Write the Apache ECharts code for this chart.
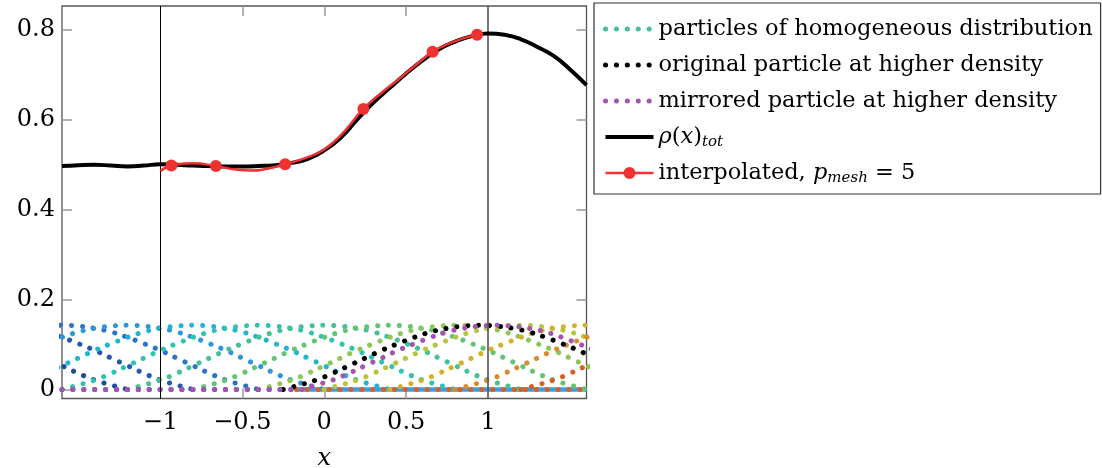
<!DOCTYPE html>
<html><head><meta charset="utf-8">
<script src="https://cdn.jsdelivr.net/npm/echarts@6/dist/echarts.min.js"></script>
<style>html,body{margin:0;padding:0;background:#fff}#c{width:1102px;height:468px}</style>
</head><body><div id="c"></div>
<script>
// ---- tick labels / guides ----
const xTickLabels = [-1, -0.5, 0, 0.5, 1];
const xTickMarks = [-0.5, 0, 0.5];
const yTickLabels = [0, 0.2, 0.4, 0.6, 0.8];
const boundaryLines = [-1, 1];

// ---- kernel profile (offset from particle centre -> value) ----
const kernelOffsets = [-1.2,-1.1,-1.0,-0.9,-0.8,-0.7,-0.6,-0.5,-0.4,-0.3,-0.2,-0.1,0,0.1,0.2,0.3,0.4,0.5,0.6,0.7,0.8,0.9,1.0,1.1,1.2];
const kernelValues  = [0,0.010,0.021,0.036,0.053,0.070,0.087,0.102,0.116,0.128,0.136,0.141,0.143,0.141,0.136,0.128,0.116,0.102,0.087,0.070,0.053,0.036,0.021,0.010,0];

// ---- particle centres ----
const homCenters = [-2.4,-2.0,-1.6,-1.2,-0.8,-0.4,0,0.4,0.8,1.2,1.6,2.0,2.4];
const homColors  = ['#1f4a9e','#2457b3','#2b74c9','#2b96d9','#20b6d2','#33c2b2','#44c296','#64c476','#8fc655','#b6c53c','#d3b22a','#d98c2c','#d6602a'];
const homLegendIndex = 6;
const originalCenter = 0.95;
const mirroredCenter = 1.05;

// ---- zero stretches of the far particles ----
const leftZeroX = [-1.6, -0.17];
const rightZeroX = [-0.17, 1.6];
const mirroredZeroX = [-1.6, -0.15];

// ---- total density ----
const rhoX = [-1.6,-1.5,-1.4,-1.3,-1.2,-1.1,-1.0,-0.9,-0.8,-0.7,-0.6,-0.5,-0.4,-0.3,-0.2,-0.1,0,0.1,0.2,0.3,0.4,0.5,0.6,0.7,0.8,0.9,1.0,1.1,1.2,1.3,1.4,1.5,1.6];
const rhoY = [0.497,0.499,0.500,0.498,0.496,0.498,0.501,0.500,0.498,0.497,0.496,0.496,0.497,0.499,0.504,0.513,0.532,0.560,0.600,0.638,0.671,0.703,0.732,0.757,0.774,0.786,0.792,0.789,0.779,0.762,0.742,0.712,0.677];

// ---- interpolated curve and its mesh nodes ----
const interpX = [-1.0,-0.8,-0.55,-0.45,-0.35,-0.1,0,0.1,0.35,0.45,0.55,0.8];
const interpY = [0.486,0.503,0.490,0.487,0.491,0.517,0.534,0.565,0.660,0.689,0.719,0.775];
const meshNodeX = [-0.9325,-0.6612,-0.2386,0.2386,0.6612,0.9325];
const meshNodeY = [0.498,0.497,0.501,0.624,0.751,0.789];

const FONT = 'DejaVu Serif';
const NAME_HOM = 'particles of homogeneous distribution';
const NAME_ORIG = 'original particle at higher density';
const NAME_MIR = 'mirrored particle at higher density';
const NAME_RHO = 'ρ(x)_tot';
const NAME_INT = 'interpolated, p_mesh = 5';
const legendRich = {};
legendRich[NAME_HOM] = NAME_HOM;
legendRich[NAME_ORIG] = NAME_ORIG;
legendRich[NAME_MIR] = NAME_MIR;
legendRich[NAME_RHO] = '{it|ρ}({it|x}){sub|tot}';
legendRich[NAME_INT] = 'interpolated, {it|p}{sub|mesh} = 5';

function dotLine(color) {
  return { color: color, width: 5, type: [0.1, 10.8], cap: 'round' };
}
function kernelData(c) {
  return kernelOffsets.map((d, i) => [+(c + d).toFixed(4), kernelValues[i]]);
}
function fmt(v) { return v < 0 ? '\u2212' + (-v) : String(v); }

const series = [];
series.push({
  name: '_band', type: 'line', data: rightZeroX.map(x => [x, 0]), symbol: 'none',
  lineStyle: { color: '#3c9de4', width: 4.4 }, z: 2,
  markLine: {
    silent: true, symbol: ['none', 'none'], label: { show: false }, animation: false,
    data: boundaryLines.map((x, i) => ({ xAxis: x, lineStyle: { type: 'solid', color: i === 0 ? '#000' : '#555', width: i === 0 ? 1 : 1.6 } }))
  }
});
homCenters.forEach((c, k) => {
  series.push({
    name: k === homLegendIndex ? NAME_HOM : '_hom' + k,
    type: 'line', data: kernelData(c), smooth: true, symbol: 'none',
    lineStyle: dotLine(homColors[k]), z: 3
  });
});
series.push({ name: '_zl', type: 'line', data: leftZeroX.map(x => [x, 0]), symbol: 'none', lineStyle: dotLine(homColors[1]), z: 3 });
series.push({ name: '_zr', type: 'line', data: rightZeroX.map(x => [x, 0]), symbol: 'none', lineStyle: dotLine(homColors[12]), z: 3 });
series.push({ name: NAME_ORIG, type: 'line', data: kernelData(originalCenter), smooth: true, symbol: 'none', lineStyle: dotLine('#000'), z: 4 });
series.push({
  name: NAME_MIR, type: 'line',
  data: mirroredZeroX.map(x => [x, 0]).concat(kernelData(mirroredCenter).slice(1)),
  smooth: true, symbol: 'none', lineStyle: dotLine('#a455b0'), z: 4
});
series.push({
  name: NAME_RHO, type: 'line', data: rhoX.map((x, i) => [x, rhoY[i]]), smooth: true, symbol: 'none',
  lineStyle: { color: '#000', width: 4 }, z: 5
});
const redPts = interpX.map((x, i) => ({ value: [x, interpY[i]], symbol: 'none' }))
  .concat(meshNodeX.map((x, i) => ({ value: [x, meshNodeY[i]] })))
  .sort((a, b) => a.value[0] - b.value[0]);
series.push({
  name: NAME_INT, type: 'line', data: redPts, smooth: true, symbol: 'circle', symbolSize: 12,
  showAllSymbol: true, itemStyle: { color: '#ee3131' }, lineStyle: { color: '#ee3131', width: 2.5 }, z: 6
});

const tickStyle = { inside: true, length: 10, lineStyle: { color: '#999', width: 1.5 } };
const noLine = { show: false, onZero: false };
const option = {
  animation: false,
  backgroundColor: '#fff',
  grid: { left: 62, right: 515.5, top: 6, bottom: 69.5, show: true, borderColor: '#555', borderWidth: 1.3,
          backgroundColor: 'transparent', containLabel: false, outerBoundsMode: 'none' },
  xAxis: [
    { type: 'value', min: -1.6, max: 1.6, position: 'bottom', name: 'x', nameLocation: 'middle', nameGap: 48,
      nameTextStyle: { fontFamily: FONT, fontSize: 24, fontStyle: 'italic', color: '#000' },
      axisLine: noLine, splitLine: { show: false },
      axisTick: Object.assign({ customValues: xTickMarks }, tickStyle),
      axisLabel: { customValues: xTickLabels, formatter: fmt, fontFamily: FONT, fontSize: 24, color: '#000', margin: 12 } },
    { type: 'value', min: -1.6, max: 1.6, position: 'top', axisLine: noLine, splitLine: { show: false },
      axisTick: Object.assign({ customValues: xTickMarks }, tickStyle), axisLabel: { show: false } }
  ],
  yAxis: [
    { type: 'value', min: -0.02, max: 0.853, position: 'left', axisLine: noLine, splitLine: { show: false },
      axisTick: Object.assign({ customValues: yTickLabels }, tickStyle),
      axisLabel: { customValues: yTickLabels, formatter: fmt, fontFamily: FONT, fontSize: 24, color: '#000', margin: 7 } },
    { type: 'value', min: -0.02, max: 0.853, position: 'right', axisLine: noLine, splitLine: { show: false },
      axisTick: Object.assign({ customValues: yTickLabels }, tickStyle), axisLabel: { show: false } }
  ],
  legend: {
    orient: 'vertical', left: 594, top: 3, padding: [13, 8, 8, 9], itemGap: 10, itemWidth: 48, itemHeight: 15,
    borderColor: '#333', borderWidth: 1.2, backgroundColor: '#fff', selectedMode: false,
    lineStyle: { width: 'inherit' },
    textStyle: { fontFamily: FONT, fontSize: 22.5, color: '#000', lineHeight: 26,
      rich: {
        it: { fontFamily: FONT, fontSize: 22.5, fontStyle: 'italic', color: '#000', lineHeight: 26 },
        sub: { fontFamily: FONT, fontSize: 15, fontStyle: 'italic', color: '#000', lineHeight: 12, padding: [11, 0, 0, 0] }
      } },
    formatter: name => legendRich[name] || name,
    data: [
      { name: NAME_HOM, itemStyle: { opacity: 0 } },
      { name: NAME_ORIG, itemStyle: { opacity: 0 } },
      { name: NAME_MIR, itemStyle: { opacity: 0 } },
      { name: NAME_RHO, itemStyle: { opacity: 0 } },
      { name: NAME_INT }
    ]
  },
  series: series
};
const chart = echarts.init(document.getElementById('c'), null, { renderer: 'canvas' });
chart.setOption(option);
</script></body></html>
